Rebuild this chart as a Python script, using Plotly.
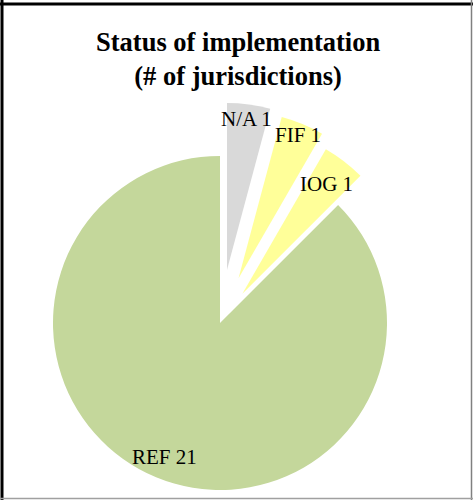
import math
import plotly.graph_objects as go

# ---- data ----
categories = ["N/A", "FIF", "IOG", "REF"]
counts = [1, 1, 1, 21]
slice_colors = ["#D9D9D9", "#FFFF99", "#FFFF99", "#C4D79B"]
explode = [0.32, 0.29, 0.22, 0.0]
title_lines = ["Status of implementation", "(# of jurisdictions)"]

# ---- layout constants (pixels) ----
W, H = 473, 500
CX, CY, R = 220, 323, 167
LABEL_R = [0.91, 0.93, 0.83, 0.87]
FONT = "Liberation Serif, Times New Roman, serif"

total = sum(counts)
fig = go.Figure()
annotations = []
start = 0.0
for i, (cat, val) in enumerate(zip(categories, counts)):
    span = 360.0 * val / total
    mid = math.radians(start + span / 2)
    start += span
    d = explode[i] * R
    cx = CX + d * math.sin(mid)
    cy = CY - d * math.cos(mid)
    cols = ["rgba(0,0,0,0)"] * len(categories)
    cols[i] = slice_colors[i]
    fig.add_trace(go.Pie(
        labels=categories, values=counts, sort=False,
        direction="clockwise", rotation=0,
        marker=dict(colors=cols, line=dict(width=0)),
        textinfo="none", hoverinfo="label+value",
        domain=dict(x=[(cx - R) / W, (cx + R) / W],
                    y=[1 - (cy + R) / H, 1 - (cy - R) / H]),
        showlegend=False,
    ))
    lx = cx + LABEL_R[i] * R * math.sin(mid)
    ly = cy - LABEL_R[i] * R * math.cos(mid)
    annotations.append(dict(
        x=lx / W, y=1 - ly / H, xref="paper", yref="paper",
        text=f"{cat} {val}", showarrow=False,
        xanchor="center", yanchor="middle",
        font=dict(family=FONT, size=21, color="black"),
    ))

annotations.append(dict(
    x=238 / W, y=1 - 25 / H, xref="paper", yref="paper",
    text="<b>" + "<br>".join(title_lines) + "</b>", showarrow=False,
    xanchor="center", yanchor="top",
    font=dict(family=FONT, size=26.5, color="black"),
))

shapes = [
    dict(type="line", xref="paper", yref="paper", x0=2 / W, x1=2 / W, y0=0, y1=1,
         line=dict(color="black", width=3)),
    dict(type="line", xref="paper", yref="paper", x0=0, x1=1, y0=1 - 4 / H, y1=1 - 4 / H,
         line=dict(color="black", width=3)),
    dict(type="line", xref="paper", yref="paper", x0=471.5 / W, x1=471.5 / W, y0=0, y1=1,
         line=dict(color="#808080", width=1.5)),
    dict(type="line", xref="paper", yref="paper", x0=0, x1=1, y0=1 - 498.5 / H, y1=1 - 498.5 / H,
         line=dict(color="#A0A0A0", width=1.5)),
]

fig.update_layout(
    width=W, height=H,
    margin=dict(l=0, r=0, t=0, b=0),
    paper_bgcolor="white", plot_bgcolor="white",
    annotations=annotations, shapes=shapes,
    showlegend=False,
)

fig.write_html("out.html", config={"displayModeBar": False},
               post_script="document.body.style.margin='0';document.body.style.overflow='hidden';")
